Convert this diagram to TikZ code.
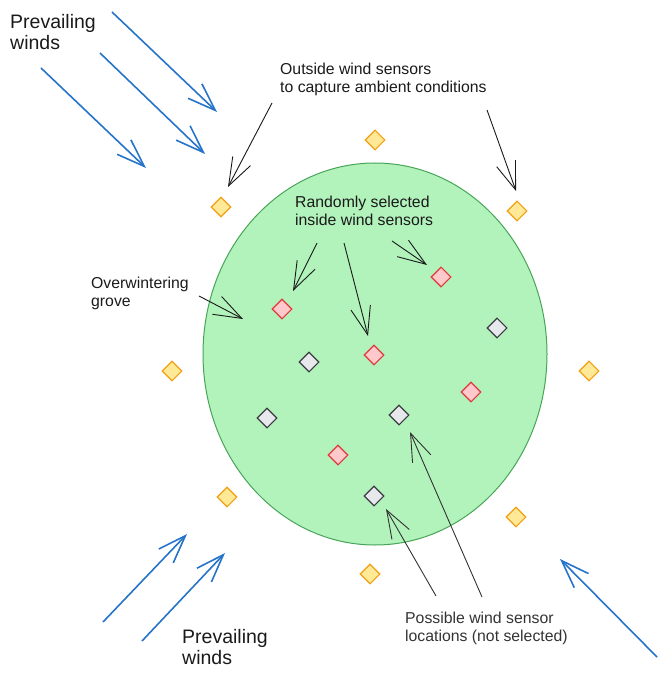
\documentclass[tikz,border=0pt]{standalone}
\usepackage{fontspec}
\setmainfont{Liberation Sans}
\usetikzlibrary{arrows.meta,shapes.geometric}
\definecolor{windblue}{RGB}{38,116,201}
\definecolor{notecol}{RGB}{26,26,26}
\definecolor{notegray}{RGB}{51,51,51}
\definecolor{txt}{RGB}{26,26,26}
\definecolor{grovefill}{RGB}{178,242,187}
\definecolor{grovedraw}{RGB}{72,165,88}
\definecolor{ofill}{RGB}{255,232,150}
\definecolor{odraw}{RGB}{240,160,20}
\definecolor{rfill}{RGB}{255,200,202}
\definecolor{rdraw}{RGB}{226,56,60}
\definecolor{gfill}{RGB}{230,232,235}
\definecolor{gdraw}{RGB}{58,60,66}
\begin{document}
\begin{tikzpicture}[x=1pt,y=-1pt,
  sensor/.style={diamond,minimum width=20pt,minimum height=20pt,inner sep=0pt,line width=1.1pt},
  outside/.style={sensor,draw=odraw,fill=ofill},
  picked/.style={sensor,draw=rdraw,fill=rfill},
  unpicked/.style={sensor,draw=gdraw,fill=gfill},
  wind/.style={draw=windblue,line width=1.6pt,-{Straight Barb[length=28pt,width=20pt]}},
  note/.style={draw=notecol,line width=0.9pt,-{Straight Barb[length=28pt,width=20pt]}},
  notetwo/.style={note,draw=notegray},
  biglabel/.style={font=\fontsize{19.5}{21}\selectfont,text=txt,align=left,anchor=base west,inner sep=0pt},
  smalllabel/.style={font=\fontsize{15.8}{18}\selectfont,text=txt,align=left,anchor=base west,inner sep=0pt}
]
\useasboundingbox (0,0) rectangle (666,679);

% grove
\node[ellipse,draw=grovedraw,fill=grovefill,line width=1pt,minimum width=344pt,minimum height=382pt,inner sep=0pt] (grove) at (375,354) {};

% outside sensors
\node[outside] (o1) at (375,140) {};
\node[outside] (o2) at (221,207) {};
\node[outside] (o3) at (517,211) {};
\node[outside] (o4) at (172,371) {};
\node[outside] (o5) at (589,371) {};
\node[outside] (o6) at (227,497) {};
\node[outside] (o7) at (516,517) {};
\node[outside] (o8) at (370,574) {};

% selected inside sensors
\node[picked] (r1) at (282,309) {};
\node[picked] (r2) at (441,277) {};
\node[picked] (r3) at (374,355) {};
\node[picked] (r4) at (471,392) {};
\node[picked] (r5) at (338,455) {};

% not selected
\node[unpicked] (g1) at (497,328) {};
\node[unpicked] (g2) at (309,362) {};
\node[unpicked] (g3) at (267,418) {};
\node[unpicked] (g4) at (399,415) {};
\node[unpicked] (g5) at (374,496) {};

% labels (anchor = baseline of last line)
\node[biglabel] (pw1) at (10,50) {Prevailing\\winds};
\node[biglabel] (pw2) at (182,664) {Prevailing\\winds};
\node[smalllabel] (outlbl) at (280,93) {Outside wind sensors\\to capture ambient conditions};
\node[smalllabel] (inlbl) at (295,225) {Randomly selected\\inside wind sensors};
\node[smalllabel] (grovelbl) at (91,306) {Overwintering\\grove};
\node[smalllabel,text=notegray] (poslbl) at (405,641) {Possible wind sensor\\locations (not selected)};

% wind arrows
\coordinate (w1s) at (112,12);  \coordinate (w1e) at (217,112);
\coordinate (w2s) at (100,53);  \coordinate (w2e) at (205,154);
\coordinate (w3s) at (41,68);   \coordinate (w3e) at (146,168);
\coordinate (w4s) at (103,622); \coordinate (w4e) at (187,534);
\coordinate (w5s) at (142,641); \coordinate (w5e) at (225,553);
\coordinate (w6s) at (657,657); \coordinate (w6e) at (560,559);
\draw[wind] (w1s) -- (w1e);
\draw[wind] (w2s) -- (w2e);
\draw[wind] (w3s) -- (w3e);
\draw[wind] (w4s) -- (w4e);
\draw[wind] (w5s) -- (w5e);
\draw[wind] (w6s) -- (w6e);

% annotation arrows
\coordinate (a1s) at (272,103); \coordinate (a1e) at (228,187);
\coordinate (a2s) at (487,110); \coordinate (a2e) at (516,191);
\coordinate (a3s) at (317,243); \coordinate (a3e) at (293,291);
\coordinate (a4s) at (344,243); \coordinate (a4e) at (368,336);
\coordinate (a5s) at (392,241); \coordinate (a5e) at (427,265);
\coordinate (a6s) at (199,296); \coordinate (a6e) at (243,319);
\coordinate (a7s) at (436,596); \coordinate (a7e) at (386,509);
\coordinate (a8s) at (482,597); \coordinate (a8e) at (410,432);
\draw[note] (a1s) -- (a1e);
\draw[note] (a2s) -- (a2e);
\draw[note] (a3s) -- (a3e);
\draw[note] (a4s) -- (a4e);
\draw[note] (a5s) -- (a5e);
\draw[note] (a6s) -- (a6e);
\draw[notetwo] (a7s) -- (a7e);
\draw[notetwo] (a8s) -- (a8e);
\end{tikzpicture}
\end{document}
